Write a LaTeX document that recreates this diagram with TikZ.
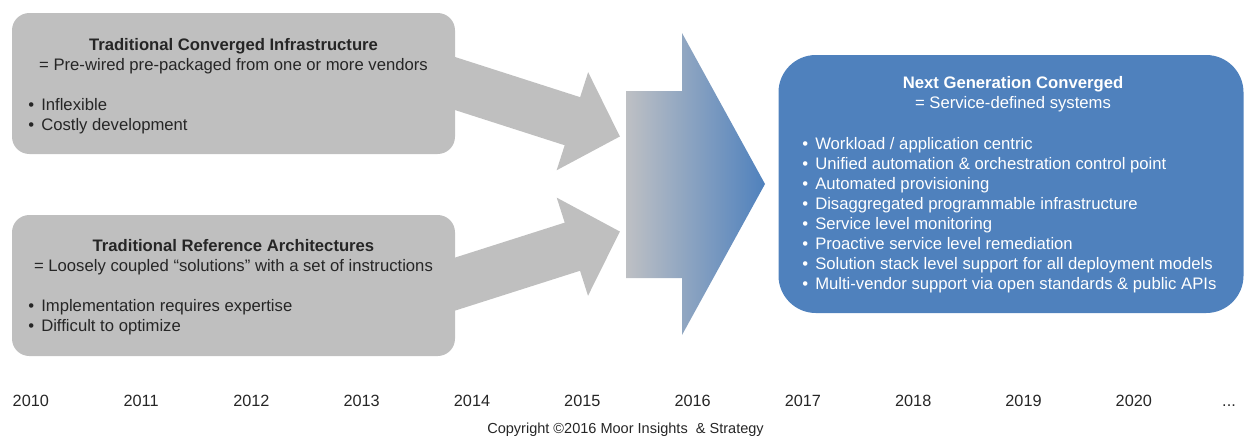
\documentclass[tikz,border=0pt]{standalone}
\usepackage{fontspec}
\setmainfont{Liberation Sans}
\usetikzlibrary{arrows.meta}
\definecolor{boxgray}{RGB}{191,191,191}
\definecolor{ngblue}{RGB}{79,129,189}
\definecolor{fadegray}{RGB}{190,192,196}
\definecolor{inkdark}{RGB}{38,38,38}
\newcommand{\bul}{\makebox[9.75pt][l]{•}}

\begin{document}
\begin{tikzpicture}[x=0.75pt,y=0.75pt,yscale=-1,xscale=1,
  graybox/.style={fill=boxgray,rounded corners=13pt,minimum width=332.25pt,minimum height=105.75pt,inner sep=0pt},
  bluebox/.style={fill=ngblue,rounded corners=28pt,minimum width=348.75pt,minimum height=193.5pt,inner sep=0pt},
  heading/.style={anchor=base,inner sep=0pt,font=\fontsize{12.5}{15}\selectfont\bfseries},
  subline/.style={anchor=base,inner sep=0pt,font=\fontsize{12.5}{15}\selectfont},
  bullet/.style={anchor=base west,inner sep=0pt,font=\fontsize{12.5}{15}\selectfont},
  year/.style={anchor=base,inner sep=0pt,text=inkdark,font=\fontsize{12.2}{14}\selectfont},
  feed/.style={draw=boxgray,line width=37.9pt,-{Triangle[length=37.5pt,width=75pt]}}
]
\useasboundingbox (0,0) rectangle (1245,437);

% feeding arrows
\coordinate (ci-out) at (360,53);
\coordinate (ci-in) at (620,136.5);
\coordinate (ra-out) at (360,314.4);
\coordinate (ra-in) at (620,231.5);
\draw[feed] (ci-out) -- (ci-in);
\draw[feed] (ra-out) -- (ra-in);

% boxes
\node[graybox] (ci) at (233.5,83.5) {};
\node[graybox] (ra) at (233.5,285.5) {};
\node[bluebox] (ng) at (1011,184) {};

% big arrow
\shade[left color=fadegray,right color=ngblue] (626,91) -- (682,91) -- (682,33) -- (765,184) -- (682,335) -- (682,278) -- (626,278) -- cycle;

% converged infrastructure
\node[heading,text=inkdark] (ci-title) at (233.5,50) {Traditional Converged Infrastructure};
\node[subline,text=inkdark] (ci-sub) at (233.5,70) {= Pre-wired pre-packaged from one or more vendors};
\node[bullet,text=inkdark] (ci-b1) at (28,110) {\bul Inflexible};
\node[bullet,text=inkdark] (ci-b2) at (28,130) {\bul Costly development};

% reference architectures
\node[heading,text=inkdark] (ra-title) at (233.5,251) {Traditional Reference Architectures};
\node[subline,text=inkdark] (ra-sub) at (233.5,271) {= Loosely coupled “solutions” with a set of instructions};
\node[bullet,text=inkdark] (ra-b1) at (28,311) {\bul Implementation requires expertise};
\node[bullet,text=inkdark] (ra-b2) at (28,331) {\bul Difficult to optimize};

% next generation
\node[heading,text=white] (ng-title) at (1013,88) {Next Generation Converged};
\node[subline,text=white] (ng-sub) at (1013,108) {= Service-defined systems};
\node[bullet,text=white] (ng-b1) at (802,149) {\bul Workload / application centric};
\node[bullet,text=white] (ng-b2) at (802,169) {\bul Unified automation \& orchestration control point};
\node[bullet,text=white] (ng-b3) at (802,189) {\bul Automated provisioning};
\node[bullet,text=white] (ng-b4) at (802,209) {\bul Disaggregated programmable infrastructure};
\node[bullet,text=white] (ng-b5) at (802,229) {\bul Service level monitoring};
\node[bullet,text=white] (ng-b6) at (802,249) {\bul Proactive service level remediation};
\node[bullet,text=white] (ng-b7) at (802,269) {\bul Solution stack level support for all deployment models};
\node[bullet,text=white] (ng-b8) at (802,289) {\bul Multi-vendor support via open standards \& public APIs};

% timeline
\node[year] (y2010) at (30.8,406) {2010};
\node[year] (y2011) at (141.1,406) {2011};
\node[year] (y2012) at (251.4,406) {2012};
\node[year] (y2013) at (361.7,406) {2013};
\node[year] (y2014) at (472,406) {2014};
\node[year] (y2015) at (582.3,406) {2015};
\node[year] (y2016) at (692.6,406) {2016};
\node[year] (y2017) at (802.9,406) {2017};
\node[year] (y2018) at (913.2,406) {2018};
\node[year] (y2019) at (1023.5,406) {2019};
\node[year] (y2020) at (1133.8,406) {2020};
\node[year] (ymore) at (1229,406) {...};

\node[year,font=\fontsize{10.9}{13}\selectfont] (copy) at (625.5,433) {Copyright ©2016 Moor Insights \ \& Strategy};
\end{tikzpicture}
\end{document}
